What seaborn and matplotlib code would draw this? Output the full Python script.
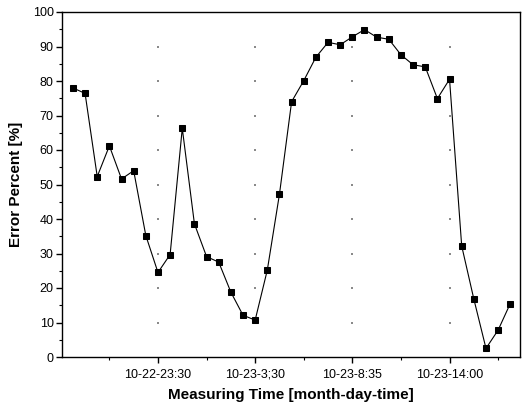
import matplotlib
matplotlib.use("Agg")
import matplotlib.pyplot as plt
from matplotlib.ticker import FixedLocator, MultipleLocator
import seaborn as sns
import pandas as pd
import itertools

error_percent = [78.0, 76.4, 52.3, 61.2, 51.6, 54.0, 35.2, 24.5, 29.7, 66.3,
                 38.6, 29.1, 27.5, 18.8, 12.1, 10.7, 25.2, 47.2, 74.0, 80.1,
                 86.9, 91.2, 90.5, 92.8, 94.9, 92.7, 92.1, 87.6, 84.7, 84.1,
                 74.9, 80.5, 32.2, 16.8, 2.5, 7.8, 15.5]
tick_positions = [7, 15, 23, 31]
tick_labels = ["10-22-23:30", "10-23-3;30", "10-23-8:35", "10-23-14:00"]
minor_positions = [3, 11, 19, 27, 35]
y_grid_values = [10, 20, 30, 40, 50, 60, 70, 80, 90]

df = pd.DataFrame({"idx": list(range(len(error_percent))), "err": error_percent})
grid_df = pd.DataFrame(list(itertools.product(tick_positions, y_grid_values)),
                       columns=["gx", "gy"])

sns.set_theme(style="white")
plt.rcParams['font.family'] = ['Liberation Sans', 'DejaVu Sans']

fig = plt.figure(figsize=(5.22, 4.04), dpi=100)
ax = fig.add_axes([62/522, 1-357/404, (520-62)/522, (357-12)/404])

# sparse dotted grid: dots at the major grid intersections
sns.scatterplot(data=grid_df, x="gx", y="gy", ax=ax, color="#8a8a8a", s=1.5,
                marker="s", linewidth=0, zorder=1)

sns.lineplot(data=df, x="idx", y="err", ax=ax, color="black", linewidth=0.8,
             marker="s", markersize=5, markeredgecolor="black",
             markerfacecolor="black", zorder=3)

ax.set_xlim(-0.9, 36.8)
ax.set_ylim(0, 100)
ax.set_xticks(tick_positions)
ax.set_xticklabels(tick_labels)
ax.xaxis.set_minor_locator(FixedLocator(minor_positions))
ax.yaxis.set_major_locator(MultipleLocator(10))
ax.yaxis.set_minor_locator(MultipleLocator(5))

ax.tick_params(axis="both", which="major", direction="out", length=4, width=1,
               labelsize=9, color="black", labelcolor="black",
               bottom=True, left=True)
ax.tick_params(axis="both", which="minor", direction="out", length=2.5, width=0.8,
               color="black", bottom=True, left=True)
ax.tick_params(axis="x", which="major", pad=4.5)
ax.tick_params(axis="y", which="major", pad=2)

for sp in ax.spines.values():
    sp.set_color("black")
    sp.set_linewidth(1.0)

ax.set_xlabel("Measuring Time [month-day-time]", fontsize=11, fontweight="bold",
              color="black", labelpad=5)
ax.set_ylabel("Error Percent [%]", fontsize=11, fontweight="bold",
              color="black", labelpad=7)

fig.savefig("out.png", dpi=100)
